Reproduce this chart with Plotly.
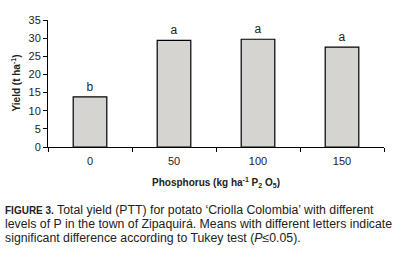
import plotly.graph_objects as go

categories = ["0", "50", "100", "150"]
yields = [13.8, 29.4, 29.7, 27.5]
letters = ["b", "a", "a", "a"]
y_ticks = [0, 5, 10, 15, 20, 25, 30, 35]

FONT = "Liberation Sans Narrow, Arial Narrow, Liberation Sans, sans-serif"

fig = go.Figure()
fig.add_trace(go.Bar(
    x=categories, y=yields, width=0.4,
    marker=dict(color="#d5d4d0", line=dict(color="black", width=1.2)),
    text=letters, textposition="outside", cliponaxis=False,
    textfont=dict(family=FONT, size=12, color="#222"),
))

fig.update_layout(
    width=403, height=269,
    margin=dict(l=48, r=19, t=20, b=122, autoexpand=False),
    paper_bgcolor="white", plot_bgcolor="white",
    showlegend=False,
    font=dict(family=FONT, size=12, color="#222"),
)
fig.update_xaxes(
    type="category", range=[-0.5, 3.5], automargin=False,
    showline=True, linecolor="black", linewidth=1,
    ticks="outside", tickson="boundaries", ticklen=4, tickcolor="black",
    tickfont=dict(family=FONT, size=11, color="#222"), ticklabelstandoff=4,
    showgrid=False,
)
fig.update_yaxes(
    range=[0, 35], tickvals=y_ticks, automargin=False,
    showline=True, linecolor="black", linewidth=1,
    ticks="outside", ticklen=4, tickcolor="black",
    tickfont=dict(family=FONT, size=11, color="#222"),
    showgrid=False, zeroline=False,
)

# axis titles
fig.add_annotation(
    text="<b>Phosphorus (kg ha<sup>-1</sup> P<sub>2</sub> O<sub>5</sub>)</b>",
    xref="paper", yref="paper", x=0.5, y=-35/127, xanchor="center", yanchor="middle",
    showarrow=False, font=dict(family=FONT, size=10, color="#222"),
)
fig.add_annotation(
    text="<b>Yield (t ha<sup>-1</sup>)</b>",
    xref="paper", yref="paper", x=-33/336, y=0.5, xanchor="center", yanchor="middle",
    textangle=-90, showarrow=False, font=dict(family=FONT, size=10, color="#222"),
)

caption = [
    "<b><span style='font-size:10px'>FIGURE 3.</span></b> Total yield (PTT) for potato ‘Criolla Colombia’ with different",
    "levels of P in the town of Zipaquirá. Means with different letters indicate",
    "significant difference according to Tukey test (<i>P</i>≤0.05).",
]
for i, line in enumerate(caption):
    fig.add_annotation(
        text=line, xref="paper", yref="paper",
        x=-45/336, y=-(63 + i*14)/127, xanchor="left", yanchor="middle",
        showarrow=False, align="left",
        font=dict(family=FONT, size=12.3, color="#222"),
    )

fig.write_html("out.html", config={"displayModeBar": False},
               post_script="document.body.style.margin='0';document.body.style.padding='0';")
